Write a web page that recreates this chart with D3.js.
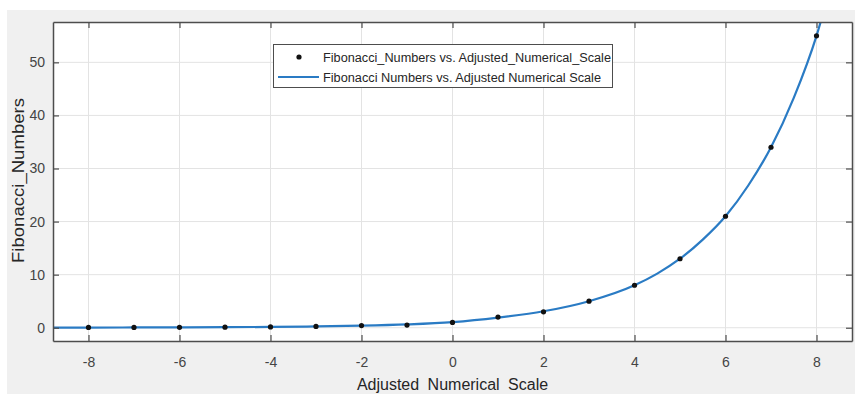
<!DOCTYPE html>
<html>
<head>
<meta charset="utf-8">
<script src="https://cdn.jsdelivr.net/npm/d3@7"></script>
<style>
  body { margin: 0; background: #ffffff; }
  text { font-family: "Liberation Sans", Arial, sans-serif; }
</style>
</head>
<body>
<div id="paper"></div>
<script>
// fibonacci plot, matlab style

let scale_x = [-8, -7, -6, -5, -4, -3, -2, -1, 0, 1, 2, 3, 4, 5, 6, 7, 8];
let fib_y = [0.05, 0.06, 0.08, 0.1, 0.15, 0.25, 0.4, 0.5, 1, 2, 3, 5, 8, 13, 21, 34, 55];

// fitted curve
let fit_x = [-8.8, -8, -7, -6, -5, -4, -3, -2, -1, 0, 1, 2, 3, 4, 4.5, 5, 5.5, 6, 6.5, 7, 7.5, 8, 8.3];
let fit_y = [0.02, 0.03, 0.05, 0.07, 0.1, 0.15, 0.24, 0.38, 0.62, 1.05, 1.9, 3.1, 5, 8, 10.2, 13, 16.6, 21, 26.8, 34, 43.3, 55, 64];

let x_ticks = [-8, -6, -4, -2, 0, 2, 4, 6, 8];
let y_ticks = [0, 10, 20, 30, 40, 50];

let legend_labels = [
  "Fibonacci_Numbers vs. Adjusted_Numerical_Scale",
  "Fibonacci Numbers vs. Adjusted Numerical Scale"
];

let blue = "#2a7bc4";
let axis_col = "#4d4d4d";

const W = 855, H = 394;
const pl = 53, pr = 852, pt = 22, pb = 341;

const svg = d3.select("#paper").append("svg")
  .attr("width", W).attr("height", H);

svg.append("rect").attr("x", 7).attr("y", 10)
  .attr("width", W - 7).attr("height", H - 10).attr("fill", "#f0f0f0");

svg.append("rect").attr("x", pl).attr("y", pt)
  .attr("width", pr - pl).attr("height", pb - pt).attr("fill", "#ffffff");

const x = d3.scaleLinear().domain([-8.78, 8.78]).range([pl, pr]);
const y = d3.scaleLinear().domain([-2.5, 57.6]).range([pb, pt]);

// grid
svg.append("g").selectAll("line").data(x_ticks).join("line")
  .attr("x1", d => x(d)).attr("x2", d => x(d))
  .attr("y1", pt).attr("y2", pb)
  .attr("stroke", "#e3e3e3").attr("stroke-width", 1);
svg.append("g").selectAll("line").data(y_ticks).join("line")
  .attr("x1", pl).attr("x2", pr)
  .attr("y1", d => y(d)).attr("y2", d => y(d))
  .attr("stroke", "#e3e3e3").attr("stroke-width", 1);

// clip for curve
svg.append("clipPath").attr("id", "clip")
  .append("rect").attr("x", pl).attr("y", pt)
  .attr("width", pr - pl).attr("height", pb - pt);

const fit = fit_x.map((d, i) => ({ x: d, y: fit_y[i] }));
const line = d3.line().x(d => x(d.x)).y(d => y(d.y)).curve(d3.curveMonotoneX);

svg.append("path").datum(fit)
  .attr("clip-path", "url(#clip)")
  .attr("d", line)
  .attr("fill", "none").attr("stroke", blue).attr("stroke-width", 2.2);

svg.append("g").selectAll("circle").data(scale_x).join("circle")
  .attr("cx", d => x(d))
  .attr("cy", (d, i) => y(fib_y[i]))
  .attr("r", 2.6)
  .attr("fill", "#111");

// axes, ticks inward on all sides
const tl = 6;
const fmt = d => String(d);
const xb = svg.append("g").attr("transform", `translate(0,${pb})`)
  .call(d3.axisBottom(x).tickValues(x_ticks).tickFormat(fmt).tickSizeInner(-tl).tickSizeOuter(0).tickPadding(16));
const xt = svg.append("g").attr("transform", `translate(0,${pt})`)
  .call(d3.axisTop(x).tickValues(x_ticks).tickSizeInner(-tl).tickSizeOuter(0).tickFormat(""));
const yl = svg.append("g").attr("transform", `translate(${pl},0)`)
  .call(d3.axisLeft(y).tickValues(y_ticks).tickFormat(fmt).tickSizeInner(-tl).tickSizeOuter(0).tickPadding(8));
const yr = svg.append("g").attr("transform", `translate(${pr},0)`)
  .call(d3.axisRight(y).tickValues(y_ticks).tickSizeInner(-tl).tickSizeOuter(0).tickFormat(""));

[xb, xt, yl, yr].forEach(g => {
  g.select(".domain").attr("stroke", axis_col).attr("stroke-width", 1.5);
  g.selectAll(".tick line").attr("stroke", axis_col).attr("stroke-width", 1.2);
  g.selectAll(".tick text").attr("fill", "#444")
    .style("font-family", "Liberation Sans, Arial, sans-serif").style("font-size", "14px");
});

// axis labels
svg.append("text")
  .attr("x", x(0)).attr("y", 390)
  .attr("text-anchor", "middle")
  .attr("fill", "#262626")
  .style("font-size", "16px")
  .style("word-spacing", "4px")
  .text("Adjusted Numerical Scale");

svg.append("text")
  .attr("transform", `translate(24,180.5) rotate(-90)`)
  .attr("text-anchor", "middle")
  .attr("fill", "#262626")
  .attr("textLength", 165)
  .attr("lengthAdjust", "spacingAndGlyphs")
  .style("font-size", "17px")
  .text("Fibonacci_Numbers");

// legend
const lg = svg.append("g");
lg.append("rect").attr("x", 273.5).attr("y", 44.5)
  .attr("width", 339).attr("height", 43)
  .attr("fill", "#fff").attr("stroke", "#4d4d4d").attr("stroke-width", 1);
lg.append("circle").attr("cx", 299).attr("cy", 57).attr("r", 2.6).attr("fill", "#111");
lg.append("line").attr("x1", 278).attr("x2", 319).attr("y1", 77).attr("y2", 77)
  .attr("stroke", blue).attr("stroke-width", 2.2);
lg.selectAll("text").data(legend_labels).join("text")
  .attr("x", 323)
  .attr("y", (d, i) => 61.5 + i * 20)
  .attr("fill", "#262626")
  .attr("textLength", (d, i) => i == 0 ? 288 : 278)
  .attr("lengthAdjust", "spacingAndGlyphs")
  .style("font-size", "12.5px")
  .text(d => d);
</script>
</body>
</html>
